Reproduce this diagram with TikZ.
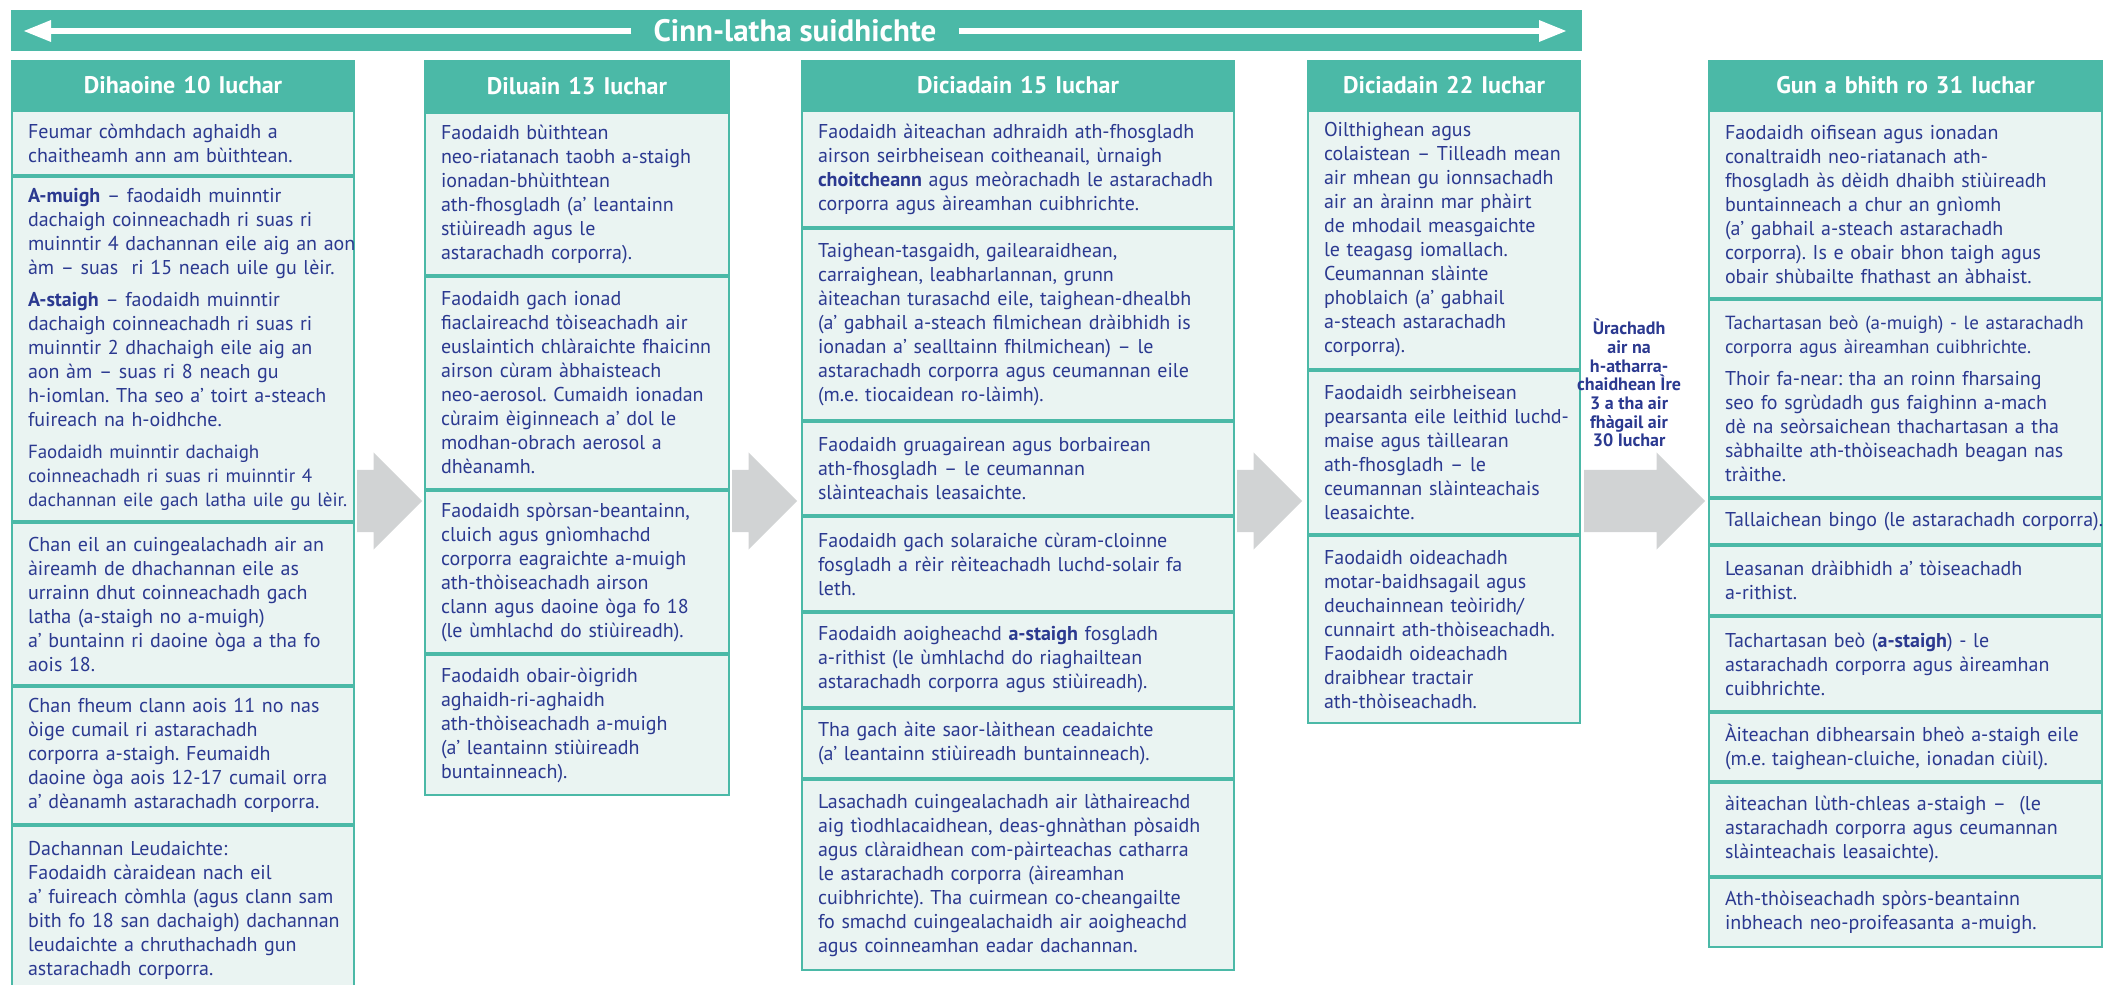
\documentclass[tikz,border=0pt]{standalone}
\usepackage{fontspec}
\setsansfont{PT Sans}
\usepackage{tikz}
\usepackage{xcolor}
\usetikzlibrary{calc}
\usetikzlibrary{positioning}
\usetikzlibrary{arrows.meta}
\usetikzlibrary{shapes.arrows}
\definecolor{headteal}{RGB}{75,185,167}
\definecolor{cellfill}{RGB}{234,244,242}
\definecolor{textnavy}{RGB}{43,57,144}
\definecolor{arrowgray}{RGB}{209,211,212}

\begin{document}
\begin{tikzpicture}[x=1pt, y=-1pt, font=\sffamily, node distance=0pt]
    \tikzstyle{bar}=[fill=headteal, minimum width=1571pt, minimum height=41pt, inner sep=0pt]
    \tikzstyle{title}=[fill=headteal, text=white, inner xsep=22pt, inner ysep=0pt, font=\sffamily\bfseries\fontsize{31}{36}\selectfont]
    \tikzstyle{wline}=[draw=white, line width=6pt, -{Triangle[length=28pt,width=20pt]}]
    \tikzstyle{head}=[draw=headteal, fill=headteal, line width=2pt, text=white, align=center, inner xsep=8pt, minimum height=48pt, font=\sffamily\bfseries\fontsize{24}{28}\selectfont]
    \tikzstyle{cell}=[draw=headteal, fill=cellfill, line width=2pt, text=textnavy, inner xsep=8pt, inner ysep=6pt, font=\sffamily\fontsize{20}{24}\selectfont, execute at begin node={\frenchspacing\leftskip=8pt\rightskip=-14pt plus 1fil\relax}]
    \tikzstyle{bigarrow}=[single arrow, fill=arrowgray, inner xsep=0pt, inner ysep=31pt, single arrow head extend=17.5pt, minimum height=65pt, anchor=west]
    \tikzstyle{note}=[text=textnavy, align=center, inner sep=0pt, font=\sffamily\bfseries\fontsize{18}{18.7}\selectfont]
    \tikzstyle{colA}=[text width=326pt]
    \tikzstyle{colB}=[text width=288pt]
    \tikzstyle{colC}=[text width=416pt]
    \tikzstyle{colD}=[text width=256pt]
    \tikzstyle{colE}=[text width=377pt]
    \newcommand{\smallpar}{\fontsize{19}{24}\selectfont}

    \useasboundingbox (0,0) rectangle (2105,985);

    % timeline bar
    \node[bar] (bar) at (796.5,30.5) {};
    \coordinate (tl) at (23,31);
    \coordinate (tr) at (1567,31);
    \node[title] (ttl) at (795,31) {Cinn-latha suidhichte};
    \draw[wline] (ttl.west) -- (tl);
    \draw[wline] (ttl.east) -- (tr);

    % Dihaoine 10 Iuchar
    \node[head, colA, anchor=north] (c1h) at (183,60) {Dihaoine 10 Iuchar};
    \node[cell, colA, minimum height=64pt, below=0pt of c1h] (c1a) {Feumar còmhdach aghaidh a\\chaitheamh ann am bùithtean.};
    \node[cell, colA, minimum height=344pt, below=0pt of c1a] (c1b) {\textbf{A-muigh} – faodaidh muinntir\\dachaigh coinneachadh ri suas ri\\muinntir 4 dachannan eile aig an aon\\àm – suas\ \ ri 15 neach uile gu lèir.\\[8pt]\textbf{A-staigh} – faodaidh muinntir\\dachaigh coinneachadh ri suas ri\\muinntir 2 dhachaigh eile aig an\\aon àm – suas ri 8 neach gu\\h-iomlan. Tha seo a’ toirt a-steach\\fuireach na h-oidhche.\\[8pt]{\smallpar Faodaidh muinntir dachaigh\\coinneachadh ri suas ri muinntir 4\\dachannan eile gach latha uile gu lèir.}};
    \node[cell, colA, minimum height=162pt, below=0pt of c1b] (c1c) {Chan eil an cuingealachadh air an\\àireamh de dhachannan eile as\\urrainn dhut coinneachadh gach\\latha (a-staigh no a-muigh)\\a’ buntainn ri daoine òga a tha fo\\aois 18.};
    \node[cell, colA, minimum height=137pt, below=0pt of c1c] (c1d) {Chan fheum clann aois 11 no nas\\òige cumail ri astarachadh\\corporra a-staigh. Feumaidh\\daoine òga aois 12-17 cumail orra\\a’ dèanamh astarachadh corporra.};
    \node[cell, colA, minimum height=168pt, below=0pt of c1d] (c1e) {Dachannan Leudaichte:\\Faodaidh càraidean nach eil\\a’ fuireach còmhla (agus clann sam\\bith fo 18 san dachaigh) dachannan\\leudaichte a chruthachadh gun\\astarachadh corporra.};

    % Diluain 13 Iuchar
    \node[head, colB, anchor=north, minimum height=50pt] (c2h) at (577,60) {Diluain 13 Iuchar};
    \node[cell, colB, minimum height=162pt, below=0pt of c2h] (c2a) {Faodaidh bùithtean\\neo-riatanach taobh a-staigh\\ionadan-bhùithtean\\ath-fhosgladh (a’ leantainn\\stiùireadh agus le\\astarachadh corporra).};
    \node[cell, colB, minimum height=212pt, below=0pt of c2a] (c2b) {Faodaidh gach ionad\\fiaclaireachd tòiseachadh air\\euslaintich chlàraichte fhaicinn\\airson cùram àbhaisteach\\neo-aerosol. Cumaidh ionadan\\cùraim èiginneach a’ dol le\\modhan-obrach aerosol a\\dhèanamh.};
    \node[cell, colB, minimum height=162pt, below=0pt of c2b] (c2c) {Faodaidh spòrsan-beantainn,\\cluich agus gnìomhachd\\corporra eagraichte a-muigh\\ath-thòiseachadh airson\\clann agus daoine òga fo 18\\(le ùmhlachd do stiùireadh).};
    \node[cell, colB, minimum height=140pt, below=0pt of c2c] (c2d) {Faodaidh obair-òigridh\\aghaidh-ri-aghaidh\\ath-thòiseachadh a-muigh\\(a’ leantainn stiùireadh\\buntainneach).};

    % Diciadain 15 Iuchar
    \node[head, colC, anchor=north] (c3h) at (1018,60) {Diciadain 15 Iuchar};
    \node[cell, colC, minimum height=116pt, below=0pt of c3h] (c3a) {Faodaidh àiteachan adhraidh ath-fhosgladh\\airson seirbheisean coitheanail, ùrnaigh\\\textbf{choitcheann} agus meòrachadh le astarachadh\\corporra agus àireamhan cuibhrichte.};
    \node[cell, colC, minimum height=191pt, below=0pt of c3a] (c3b) {Taighean-tasgaidh, gailearaidhean,\\carraighean, leabharlannan, grunn\\àiteachan turasachd eile, taighean-dhealbh\\(a’ gabhail a-steach filmichean dràibhidh is\\ionadan a’ sealltainn fhilmichean) – le\\astarachadh corporra agus ceumannan eile\\(m.e. tiocaidean ro-làimh).};
    \node[cell, colC, minimum height=93pt, below=0pt of c3b] (c3c) {Faodaidh gruagairean agus borbairean\\ath-fhosgladh – le ceumannan\\slàinteachais leasaichte.};
    \node[cell, colC, minimum height=94pt, below=0pt of c3c] (c3d) {Faodaidh gach solaraiche cùram-cloinne\\fosgladh a rèir rèiteachadh luchd-solair fa\\leth.};
    \node[cell, colC, minimum height=94pt, below=0pt of c3d] (c3e) {Faodaidh aoigheachd \textbf{a-staigh} fosgladh\\a-rithist (le ùmhlachd do riaghailtean\\astarachadh corporra agus stiùireadh).};
    \node[cell, colC, minimum height=69pt, below=0pt of c3e] (c3f) {Tha gach àite saor-làithean ceadaichte\\(a’ leantainn stiùireadh buntainneach).};
    \node[cell, colC, minimum height=190pt, below=0pt of c3f] (c3g) {Lasachadh cuingealachadh air làthaireachd\\aig tìodhlacaidhean, deas-ghnàthan pòsaidh\\agus clàraidhean com-pàirteachas catharra\\le astarachadh corporra (àireamhan\\cuibhrichte). Tha cuirmean co-cheangailte\\fo smachd cuingealachaidh air aoigheachd\\agus coinneamhan eadar dachannan.};

    % Diciadain 22 Iuchar
    \node[head, colD, anchor=north] (c4h) at (1444,60) {Diciadain 22 Iuchar};
    \node[cell, colD, minimum height=258pt, below=0pt of c4h] (c4a) {Oilthighean agus\\colaistean – Tilleadh mean\\air mhean gu ionnsachadh\\air an àrainn mar phàirt\\de mhodail measgaichte\\le teagasg iomallach.\\Ceumannan slàinte\\phoblaich (a’ gabhail\\a-steach astarachadh\\corporra).};
    \node[cell, colD, minimum height=163pt, below=0pt of c4a] (c4b) {Faodaidh seirbheisean\\pearsanta eile leithid luchd-\\maise agus tàillearan\\ath-fhosgladh – le\\ceumannan slàinteachais\\leasaichte.};
    \node[cell, colD, minimum height=187pt, below=0pt of c4b] (c4c) {Faodaidh oideachadh\\motar-baidhsagail agus\\deuchainnean teòiridh/\\cunnairt ath-thòiseachadh.\\Faodaidh oideachadh\\draibhear tractair\\ath-thòiseachadh.};

    % Gun a bhith ro 31 Iuchar
    \node[head, colE, anchor=north] (c5h) at (1905.5,60) {Gun a bhith ro 31 Iuchar};
    \node[cell, colE, minimum height=187pt, below=0pt of c5h] (c5a) {Faodaidh oifisean agus ionadan\\conaltraidh neo-riatanach ath-\\fhosgladh às dèidh dhaibh stiùireadh\\buntainneach a chur an gnìomh\\(a’ gabhail a-steach astarachadh\\corporra). Is e obair bhon taigh agus\\obair shùbailte fhathast an àbhaist.};
    \node[cell, colE, minimum height=197pt, below=0pt of c5a] (c5b) {{\smallpar Tachartasan beò (a-muigh) - le astarachadh\\corporra agus àireamhan cuibhrichte.}\\[8pt]Thoir fa-near: tha an roinn fharsaing\\seo fo sgrùdadh gus faighinn a-mach\\dè na seòrsaichean thachartasan a tha\\sàbhailte ath-thòiseachadh beagan nas\\tràithe.};
    \node[cell, colE, minimum height=45pt, below=0pt of c5b] (c5c) {Tallaichean bingo (le astarachadh corporra).};
    \node[cell, colE, minimum height=69pt, below=0pt of c5c] (c5d) {Leasanan dràibhidh a’ tòiseachadh\\a-rithist.};
    \node[cell, colE, minimum height=94pt, below=0pt of c5d] (c5e) {Tachartasan beò (\textbf{a-staigh}) - le\\astarachadh corporra agus àireamhan\\cuibhrichte.};
    \node[cell, colE, minimum height=68pt, below=0pt of c5e] (c5f) {Àiteachan dibhearsain bheò a-staigh eile\\(m.e. taighean-cluiche, ionadan ciùil).};
    \node[cell, colE, minimum height=93pt, below=0pt of c5f] (c5g) {àiteachan lùth-chleas a-staigh –\ \ (le\\astarachadh corporra agus ceumannan\\slàinteachais leasaichte).};
    \node[cell, colE, minimum height=69pt, below=0pt of c5g] (c5h) {Ath-thòiseachadh spòrs-beantainn\\inbheach neo-proifeasanta a-muigh.};

    % gray arrows between the days
    \coordinate (mid) at (0,501);
    \node[bigarrow, xshift=2pt] (a1) at (c1h.east |- mid) {};
    \node[bigarrow, xshift=2pt] (a2) at (c2h.east |- mid) {};
    \node[bigarrow, xshift=2pt] (a3) at (c3h.east |- mid) {};
    \node[bigarrow, xshift=3pt, minimum height=121pt] (a4) at (c4h.east |- mid) {};
    \node[note] (upd) at ($(a4.center)+(0,-118)$) {Ùrachadh\\air na\\h-atharra-\\chaidhean Ìre\\3 a tha air\\fhàgail air\\30 Iuchar};

\end{tikzpicture}
\end{document}
